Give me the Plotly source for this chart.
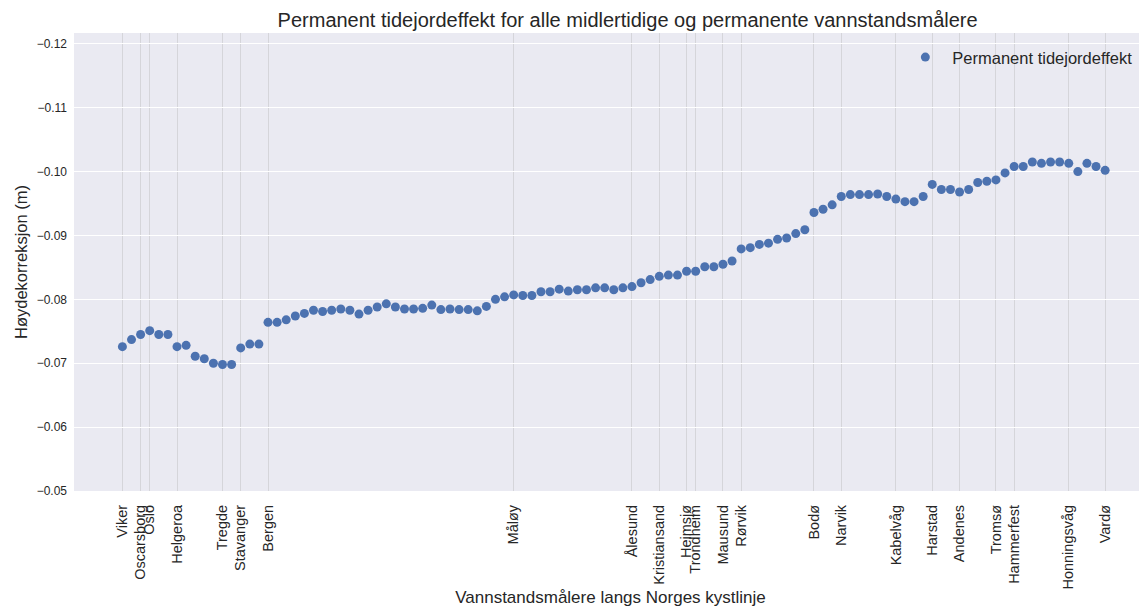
import plotly.graph_objects as go

values = [
    -0.0726, -0.0737, -0.0745, -0.0751, -0.0745, -0.0745, -0.0726, -0.0728, -0.0711, -0.0707,
    -0.0700, -0.0698, -0.0698, -0.0724, -0.0730, -0.0730, -0.0764, -0.0764, -0.0768, -0.0774,
    -0.0778, -0.0783, -0.0781, -0.0783, -0.0785, -0.0783, -0.0777, -0.0783, -0.0788, -0.0793,
    -0.0788, -0.0785, -0.0785, -0.0786, -0.0791, -0.0784, -0.0785, -0.0784, -0.0784, -0.0782,
    -0.0789, -0.0800, -0.0804, -0.0807, -0.0806, -0.0806, -0.0812, -0.0812, -0.0816, -0.0813,
    -0.0815, -0.0815, -0.0818, -0.0818, -0.0815, -0.0818, -0.0820, -0.0826, -0.0831, -0.0836,
    -0.0838, -0.0838, -0.0844, -0.0844, -0.0851, -0.0851, -0.0855, -0.0860, -0.0879, -0.0881,
    -0.0886, -0.0888, -0.0894, -0.0896, -0.0903, -0.0909, -0.0936, -0.0941, -0.0948, -0.0961,
    -0.0964, -0.0964, -0.0964, -0.0965, -0.0961, -0.0957, -0.0953, -0.0953, -0.0961, -0.0980,
    -0.0972, -0.0972, -0.0968, -0.0972, -0.0983, -0.0985, -0.0987, -0.0998, -0.1008, -0.1008,
    -0.1015, -0.1013, -0.1015, -0.1015, -0.1013, -0.1000, -0.1013, -0.1008, -0.1002,
]
positions = list(range(len(values)))

station_index = [0, 2, 3, 6, 11, 13, 16, 43, 56, 59, 62, 63, 66, 68, 76, 79, 85, 89, 92, 96, 98, 104, 108]
station_names = ["Viker", "Oscarsborg", "Oslo", "Helgeroa", "Tregde", "Stavanger", "Bergen",
                 "Måløy", "Ålesund", "Kristiansand", "Heimsjø", "Trondheim", "Mausund", "Rørvik",
                 "Bodø", "Narvik", "Kabelvåg", "Harstad", "Andenes", "Tromsø", "Hammerfest",
                 "Honningsvåg", "Vardø"]
y_ticks = [-0.12, -0.11, -0.10, -0.09, -0.08, -0.07, -0.06, -0.05]

FONT = "Liberation Sans, Arial, sans-serif"
TXT = "#262626"

# page body has an 8px margin; size figure so it fills the rest of the window
W, H = 1139, 602

fig = go.Figure()
fig.add_trace(go.Scatter(
    x=positions, y=values, mode="markers", name="Permanent tidejordeffekt",
    marker=dict(color="#4C72B0", size=9, line=dict(width=0)),
))

fig.update_layout(
    width=W, height=H,
    margin=dict(l=66, r=0, t=25, b=119),
    paper_bgcolor="white", plot_bgcolor="#EAEAF2",
    font=dict(family=FONT, color=TXT),
    title=dict(text="Permanent tidejordeffekt for alle midlertidige og permanente vannstandsmålere",
               x=0.544, xref="container", xanchor="center", y=1 - 12 / H, yanchor="middle",
               yref="container", font=dict(size=20, color=TXT, family=FONT)),
    showlegend=True,
    legend=dict(x=0.991, xanchor="right", y=0.985, yanchor="top", bgcolor="rgba(0,0,0,0)",
                font=dict(size=16.5, color=TXT, family=FONT), itemwidth=44),
    xaxis=dict(range=[-5.32, 112.6], tickmode="array", tickvals=station_index, ticktext=station_names,
               tickangle=-90, tickfont=dict(size=14.5, color=TXT), showgrid=True,
               gridcolor="#D5D5DA", gridwidth=1, zeroline=False, showline=False, ticks="",
               ticklabelstandoff=10,
               title=dict(text="Vannstandsmålere langs Norges kystlinje", font=dict(size=17, color=TXT),
                          standoff=2),
               automargin=False),
    yaxis=dict(range=[-0.05, -0.1217], tickmode="array", tickvals=y_ticks, tickformat=".2f",
               tickfont=dict(size=12, color=TXT), showgrid=True, gridcolor="white", gridwidth=1.2,
               zeroline=False, showline=False, ticks="", ticklabelstandoff=6,
               title=dict(text="Høydekorreksjon (m)", font=dict(size=16.5, color=TXT), standoff=4),
               automargin=False),
)

fig.write_html("out.html")
